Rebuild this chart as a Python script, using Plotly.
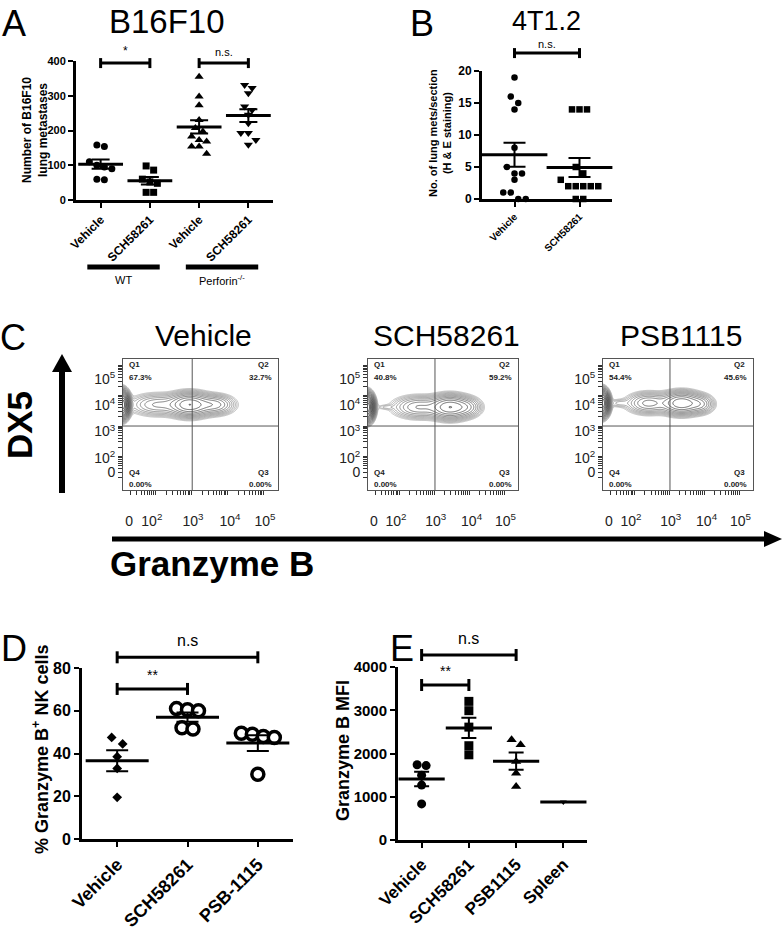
import numpy as np
import plotly.graph_objects as go

W, H = 783, 929
FONT = "Liberation Sans, Arial, Helvetica, sans-serif"

# ---------------- data ----------------
# A: B16F10 lung metastases
a_labels = ["Vehicle", "SCH58261", "Vehicle", "SCH58261"]
a_wt_vehicle = [158, 154, 110, 100, 95, 90, 60, 58]
a_wt_sch = [98, 86, 60, 52, 48, 22, 22]
a_prf_vehicle = [355, 298, 273, 230, 207, 197, 183, 173, 168, 154, 154, 133]
a_prf_sch = [331, 322, 307, 269, 259, 245, 221, 193, 193, 173, 159]
a_groups = ["WT", "Perforin<sup>-/-</sup>"]

# B: 4T1.2 lung mets per section
b_labels = ["Vehicle", "SCH58261"]
b_vehicle = [19, 16, 15, 14, 8, 5, 4, 4, 3, 1, 1, 0, 0]
b_sch = [14, 14, 14, 5, 4, 3, 2, 2, 2, 2, 2, 0, 0]

# C: DX5 vs Granzyme B flow plots
c_samples = ["Vehicle", "SCH58261", "PSB1115"]
c_q1 = ["67.3%", "40.8%", "54.4%"]
c_q2 = ["32.7%", "59.2%", "45.6%"]
c_q3 = ["0.00%", "0.00%", "0.00%"]
c_q4 = ["0.00%", "0.00%", "0.00%"]
# populations: centre x, centre y (log decades), spread x, spread y, peak height
c_pop_vehicle = [(1.05, 3.70, 0.10, 0.20, 8.0),
                 (2.05, 3.70, 0.40, 0.19, 0.30), (2.95, 3.70, 0.30, 0.20, 1.0),
                 (3.65, 3.70, 0.28, 0.17, 0.45)]
c_pop_sch = [(1.05, 3.62, 0.10, 0.20, 8.0), (1.60, 3.62, 0.18, 0.05, 0.05),
             (2.55, 3.62, 0.38, 0.19, 0.40), (3.45, 3.62, 0.30, 0.20, 1.0),
             (3.95, 3.62, 0.22, 0.17, 0.30)]
c_pop_psb = [(1.05, 3.75, 0.10, 0.19, 8.0), (1.55, 3.75, 0.18, 0.08, 0.08),
             (2.40, 3.75, 0.32, 0.18, 0.45), (3.35, 3.75, 0.30, 0.19, 1.0),
             (3.90, 3.72, 0.20, 0.16, 0.35)]
c_ticktext = ["0", "10<sup>2</sup>", "10<sup>3</sup>", "10<sup>4</sup>", "10<sup>5</sup>"]

# D: % Granzyme B+ NK cells
d_labels = ["Vehicle", "SCH58261", "PSB-1115"]
d_vehicle = [47.5, 44.5, 38.5, 33, 19.5]
d_sch = [61, 60.5, 60, 52, 51.5]
d_psb = [49.5, 49, 48, 47.5, 30.3]

# E: Granzyme B MFI
e_labels = ["Vehicle", "SCH58261", "PSB1115", "Spleen"]
e_vehicle = [1740, 1720, 1500, 1270, 835]
e_sch = [3205, 2990, 2610, 2180, 1970]
e_psb = [2320, 2200, 1815, 1545, 1235]
e_spleen = [880]

# ---------------- geometry helpers ----------------
def fx(px):
    return px / W


def fy(py):
    return 1 - py / H


panels = {
    "A": dict(x="x", y="y", xpx=(76, 273), ypx=(61, 200), xr=(-0.5, 3.5), yr=(0, 400)),
    "B": dict(x="x2", y="y2", xpx=(482, 612), ypx=(71, 199), xr=(-0.5, 1.5), yr=(0, 20)),
    "D": dict(x="x6", y="y6", xpx=(82, 293), ypx=(668, 839), xr=(-0.5, 2.5), yr=(0, 80)),
    "E": dict(x="x7", y="y7", xpx=(398, 587), ypx=(667, 840), xr=(-0.5, 3.5), yr=(0, 4000)),
}


def px_x(p, v):
    (x0, x1), (r0, r1) = p["xpx"], p["xr"]
    return x0 + (v - r0) / (r1 - r0) * (x1 - x0)


def px_y(p, v):
    (top, bot), (r0, r1) = p["ypx"], p["yr"]
    return bot - (v - r0) / (r1 - r0) * (bot - top)


def swarm(vals, unit_px, d_px, cat_px):
    # points closer than one marker are spread sideways, like a column scatter
    vals = np.asarray(vals, float)
    order = np.argsort(-vals, kind="stable")
    offs = np.zeros(len(vals))
    groups, cur = [], []
    for idx in order:
        if cur and (vals[cur[0]] - vals[idx]) * unit_px >= d_px:
            groups.append(cur)
            cur = []
        cur.append(idx)
    groups.append(cur)
    for g in groups:
        for k, idx in enumerate(g):
            offs[idx] = (k - (len(g) - 1) / 2) * d_px / cat_px
    return offs


fig = go.Figure()
layout = {}
annotations = []
shapes = []


def text(s, x, y, size, bold=False, angle=0, color="black", **kw):
    annotations.append(dict(text=s, x=fx(x), y=fy(y), xref="paper", yref="paper",
                            showarrow=False, textangle=angle, xanchor="center", yanchor="middle",
                            font=dict(family=FONT, size=size, color=color,
                                      weight=700 if bold else 400), **kw))


def pline(x0, y0, x1, y1, width, color="black"):
    shapes.append(dict(type="line", xref="paper", yref="paper", x0=fx(x0), y0=fy(y0),
                       x1=fx(x1), y1=fy(y1), line=dict(color=color, width=width)))


def dot_panel(p, labels, series, symbols, sizes, fills, lw, d_px, mean_len, cap,
              tick_size, label_size, ytickvals):
    (x0, x1), (top, bot) = p["xpx"], p["ypx"]
    unit_px = (bot - top) / (p["yr"][1] - p["yr"][0])
    cat_px = (x1 - x0) / (p["xr"][1] - p["xr"][0])
    for i, vals in enumerate(series):
        offs = swarm(vals, unit_px, d_px, cat_px)
        fig.add_trace(go.Scatter(
            x=i + offs, y=vals, xaxis=p["x"], yaxis=p["y"], mode="markers",
            marker=dict(symbol=symbols[i], size=sizes[i], color=fills[i],
                        line=dict(color="black", width=lw[i])),
            cliponaxis=False, showlegend=False, hoverinfo="skip"))
    for i, vals in enumerate(series):
        m = float(np.mean(vals))
        s = float(np.std(vals, ddof=1) / np.sqrt(len(vals))) if len(vals) > 1 else 0.0
        fig.add_trace(go.Scatter(
            x=[i], y=[m], xaxis=p["x"], yaxis=p["y"], mode="markers",
            marker=dict(symbol="line-ew-open", size=mean_len, color="black",
                        line=dict(color="black", width=3)),
            error_y=dict(type="data", array=[s], visible=s > 0, width=cap,
                         thickness=2, color="black"),
            cliponaxis=False, showlegend=False, hoverinfo="skip"))
    xa = dict(domain=[fx(x0), fx(x1)], range=list(p["xr"]), anchor=p["y"],
              tickmode="array", tickvals=list(range(len(labels))), ticktext=labels,
              tickangle=-45, ticks="outside", ticklen=5, tickwidth=2, tickcolor="black",
              showline=True, linewidth=3, linecolor="black", showgrid=False,
              zeroline=False, fixedrange=True, automargin=False,
              tickfont=dict(family=FONT, size=label_size, color="black", weight=700))
    ya = dict(domain=[fy(bot), fy(top)], range=list(p["yr"]), anchor=p["x"],
              tickmode="array", tickvals=ytickvals, ticks="outside", ticklen=5,
              tickwidth=2, tickcolor="black", showline=True, linewidth=3,
              linecolor="black", showgrid=False, zeroline=False, fixedrange=True,
              automargin=False,
              tickfont=dict(family=FONT, size=tick_size, color="black", weight=700))
    layout["xaxis" + p["x"][1:]] = xa
    layout["yaxis" + p["y"][1:]] = ya


def bracket(p, i0, i1, yv, label, size, gap, cap_px=6):
    xa, xb = px_x(p, i0), px_x(p, i1)
    yy = px_y(p, yv)
    pline(xa, yy, xb, yy, 3)
    pline(xa, yy - cap_px, xa, yy + cap_px, 3)
    pline(xb, yy - cap_px, xb, yy + cap_px, 3)
    text(label, (xa + xb) / 2, yy - gap, size)


# ---------------- panel A ----------------
pA = panels["A"]
dot_panel(pA, a_labels, [a_wt_vehicle, a_wt_sch, a_prf_vehicle, a_prf_sch],
          ["circle", "square", "triangle-up", "triangle-down"], [7, 7, 8, 8],
          ["black"] * 4, [0, 0, 0, 0], 7.5, 32, 9, 11, 12, [0, 100, 200, 300, 400])
bracket(pA, 0, 1, 394, "*", 12, 12, 5)
bracket(pA, 2, 3, 394, "n.s.", 11, 11, 5)
for g, (i0, i1) in zip(a_groups, [(0, 1), (2, 3)]):
    xa, xb = px_x(pA, i0 - 0.27), px_x(pA, i1 + 0.2)
    pline(xa, 267, xb, 267, 5)
    text(g, (xa + xb) / 2, 280, 11)
text("A", 14, 23, 36)
text("B16F10", 167, 21, 33)
text("Number of B16F10<br>lung metastases", 35, 130, 12, bold=True, angle=-90)

# ---------------- panel B ----------------
pB = panels["B"]
dot_panel(pB, b_labels, [b_vehicle, b_sch], ["circle", "square"], [6.5, 6.5],
          ["black"] * 2, [0, 0], 7.5, 47, 11, 12, 10, [0, 5, 10, 15, 20])
bracket(pB, 0, 1, 22.8, "n.s.", 11, 9, 5)
text("B", 422, 23, 36)
text("4T1.2", 546, 21, 27)
text("No. of lung mets/section<br>(H & E staining)", 440, 133, 11, bold=True, angle=-90)

# ---------------- panel C ----------------
gx = np.linspace(1.1, 5.4, 260)
gy = np.linspace(0.9, 5.2, 220)
GX, GY = np.meshgrid(gx, gy)
flow_xpx = [(123, 278), (368, 518), (603, 753)]
flow_ypx = (359, 490)
minor_vals = [d + np.log10(k) for d in range(1, 5) for k in range(1, 10)] + [5.0]
minor_vals = [v for v in minor_vals if v > 1.12]
lo, hi = np.log10(0.03), np.log10(8.0)
for n, (pops, (x0, x1)) in enumerate(zip([c_pop_vehicle, c_pop_sch, c_pop_psb], flow_xpx)):
    ax = str(n + 3)
    dens = np.zeros_like(GX)
    for cx, cy, sx, sy, amp in pops:
        dens += amp * np.exp(-0.5 * (((GX - cx) / sx) ** 2 + ((GY - cy) / sy) ** 2))
    fig.add_trace(go.Contour(
        x=gx, y=gy, z=np.log10(dens + 1e-9), xaxis="x" + ax, yaxis="y" + ax,
        contours=dict(coloring="lines", start=lo, end=hi, size=0.14),
        colorscale=[[0, "#b0b0b0"], [0.45, "#555555"], [1, "#0a0a0a"]],
        zmin=lo, zmax=hi, line=dict(width=0.8), showscale=False, hoverinfo="skip"))
    layout["xaxis" + ax] = dict(
        domain=[fx(x0), fx(x1)], range=[1.1, 5.4], anchor="y" + ax,
        showline=True, mirror=True, linecolor="#555", linewidth=1, showgrid=False,
        zeroline=False, ticks="", tickmode="array", tickvals=[1.27, 1.9, 3.04, 4.07, 5.04],
        ticktext=c_ticktext, ticklabelstandoff=18, fixedrange=True, automargin=False,
        tickfont=dict(family=FONT, size=14, color="#222"),
        minor=dict(tickmode="array", tickvals=minor_vals, ticks="outside", ticklen=4,
                   tickwidth=1, tickcolor="#333"))
    layout["yaxis" + ax] = dict(
        domain=[fy(flow_ypx[1]), fy(flow_ypx[0])], range=[0.9, 5.2], anchor="x" + ax,
        showline=True, mirror=True, linecolor="#555", linewidth=1, showgrid=False,
        zeroline=False, ticks="", tickmode="array", tickvals=[1.49, 1.94, 2.82, 3.7, 4.55],
        ticktext=c_ticktext, ticklabelstandoff=4, fixedrange=True, automargin=False,
        tickfont=dict(family=FONT, size=14, color="#222"),
        minor=dict(tickmode="array", tickvals=[v for v in minor_vals if v < 5.2],
                   ticks="outside", ticklen=4, tickwidth=1, tickcolor="#333"))
    # quadrant gates
    shapes.append(dict(type="line", xref="x" + ax, yref="y" + ax, x0=3.02, x1=3.02,
                       y0=0.9, y1=5.2, line=dict(color="#555", width=1)))
    shapes.append(dict(type="line", xref="x" + ax, yref="y" + ax, x0=1.1, x1=5.4,
                       y0=3.0, y1=3.0, line=dict(color="#555", width=1)))
    qfont = dict(family=FONT, size=8, color="#222", weight=700)
    for s, qx, qy, anc in [("Q1", 0.025, 0.955, "left"), (c_q1[n], 0.025, 0.86, "left"),
                           ("Q2", 0.86, 0.955, "left"), (c_q2[n], 0.975, 0.86, "right"),
                           ("Q4", 0.025, 0.135, "left"), (c_q4[n], 0.025, 0.04, "left"),
                           ("Q3", 0.86, 0.135, "left"), (c_q3[n], 0.975, 0.04, "right")]:
        annotations.append(dict(text=s, x=qx, y=qy, xref="x" + ax + " domain",
                                yref="y" + ax + " domain", showarrow=False,
                                xanchor=anc, yanchor="middle", font=qfont))
    text(c_samples[n], (x0 + x1) / 2 + 3, 335, 30)

text("C", 13, 337, 36)
# DX5 / Granzyme B arrows
pline(62, 493, 62, 368, 6)
shapes.append(dict(type="path", xref="paper", yref="paper", fillcolor="black",
                   line=dict(width=0),
                   path=f"M {fx(52)} {fy(372)} L {fx(62)} {fy(354)} L {fx(72)} {fy(372)} Z"))
pline(112, 539, 766, 539, 5)
shapes.append(dict(type="path", xref="paper", yref="paper", fillcolor="black",
                   line=dict(width=0),
                   path=f"M {fx(764)} {fy(531)} L {fx(782)} {fy(539)} L {fx(764)} {fy(547)} Z"))
text("DX5", 19, 425, 35, bold=True, angle=-90)
text("Granzyme B", 212, 563, 35, bold=True)

# ---------------- panel D ----------------
pD = panels["D"]
dot_panel(pD, d_labels, [d_vehicle, d_sch, d_psb], ["diamond", "circle", "circle"],
          [7.5, 12, 12], ["black", "white", "white"], [0, 3.5, 3.5], 11, 45, 11, 16, 18,
          [0, 20, 40, 60, 80])
bracket(pD, 0, 2, 85, "n.s", 16, 17)
bracket(pD, 0, 1, 70.2, "**", 14, 14)
text("D", 14, 648, 36)
text("% Granzyme B<sup>+</sup> NK cells", 40, 750, 18, bold=True, angle=-90)

# ---------------- panel E ----------------
pE = panels["E"]
dot_panel(pE, e_labels, [e_vehicle, e_sch, e_psb, e_spleen],
          ["circle", "square", "triangle-up", "triangle-down"], [9, 9, 9, 6],
          ["black"] * 4, [0, 0, 0, 0], 9, 33, 7.5, 15, 17, [0, 1000, 2000, 3000, 4000])
bracket(pE, 0, 2, 4277, "n.s", 16, 17)
bracket(pE, 0, 1, 3584, "**", 14, 14)
text("E", 402, 648, 36)
text("Granzyme B MFI", 343, 751, 18, bold=True, angle=-90)

fig.update_layout(
    width=W, height=H, margin=dict(l=0, r=0, t=0, b=0, pad=0),
    paper_bgcolor="white", plot_bgcolor="white", showlegend=False,
    font=dict(family=FONT, color="black"),
    annotations=annotations, shapes=shapes, **layout)

# the page's default body margin would push the figure 8px down and right
fig.write_html("out.html", config={"displayModeBar": False},
               post_script="document.body.style.margin='0';")
